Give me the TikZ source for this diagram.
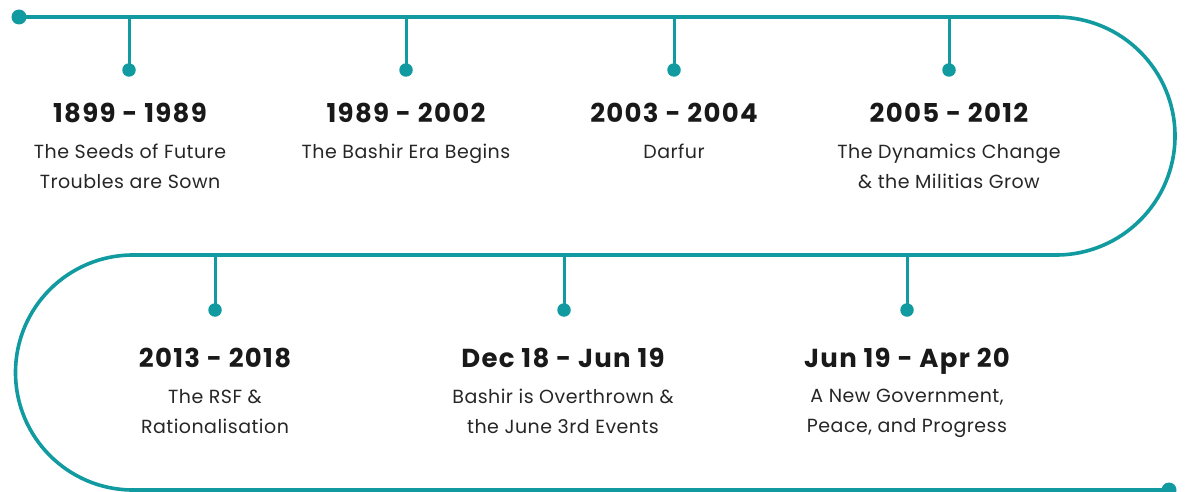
\documentclass[tikz,border=0pt]{standalone}
\usepackage{fontspec}
\setmainfont{Poppins}
\newfontfamily\yearfont[LetterSpace=5]{Poppins Bold}
\newfontfamily\descfont[LetterSpace=2.5]{Poppins}
\definecolor{teal1}{RGB}{17,155,160}
\begin{document}
\begin{tikzpicture}[x=1pt,y=-1pt,
  track/.style={draw=teal1,line width=3.6pt},
  stem/.style={draw=teal1,line width=3pt},
  dot/.style={circle,fill=teal1,inner sep=0pt,minimum size=15pt},
  sdot/.style={circle,fill=teal1,inner sep=0pt,minimum size=13.5pt},
  yr/.style={font=\yearfont\fontsize{26}{28}\selectfont,text=black!90,inner sep=0pt,anchor=base},
  desc/.style={font=\descfont\fontsize{19}{30}\selectfont,text=black!85,align=center,inner sep=0pt,anchor=north}]
\useasboundingbox (0,0) rectangle (1185,492);
% track
\node[dot] (start) at (19,17) {};
\coordinate (tr) at (1056,17);
\coordinate (mr) at (1056,255);
\coordinate (ml) at (133,255);
\coordinate (bl) at (133,490);
\node[dot] (end) at (1169,490) {};
\draw[track] (start.center) -- (tr) arc[start angle=-90,end angle=90,radius=119] -- (ml) arc[start angle=-90,end angle=-270,radius=117.5] -- (end.center);
% top stems
\foreach \n/\x in {a/129,b/406,c/674,d/949}{
  \coordinate (s\n) at (\x,17);
  \node[sdot] (d\n) at (\x,70) {};
  \draw[stem] (s\n) -- (d\n.center);
}
\foreach \n/\x in {e/215,f/564,g/907}{
  \coordinate (s\n) at (\x,255);
  \node[sdot] (d\n) at (\x,310) {};
  \draw[stem] (s\n) -- (d\n.center);
}
% texts
\node[yr] (ya) at (130,123) {1899 - 1989};
\node[yr] (yb) at (406,123) {1989 - 2002};
\node[yr] (yc) at (674,123) {2003 - 2004};
\node[yr] (yd) at (949,123) {2005 - 2012};
\node[desc] (ta) at (130,144) {The Seeds of Future\\Troubles are Sown};
\node[desc] (tb) at (406,144) {The Bashir Era Begins};
\node[desc] (tc) at (674,144) {Darfur};
\node[desc] (td) at (949,144) {The Dynamics Change\\\& the Militias Grow};
\node[yr] (ye) at (215,367) {2013 - 2018};
\node[yr] (yf) at (563,367) {Dec 18 - Jun 19};
\node[yr] (yg) at (907,367) {Jun 19 - Apr 20};
\node[desc] (te) at (215,389) {The RSF \&\\Rationalisation};
\node[desc] (tf) at (563,389) {Bashir is Overthrown \&\\the June 3rd Events};
\node[desc] (tg) at (907,389) {A New Government,\\Peace, and Progress};
\end{tikzpicture}
\end{document}
